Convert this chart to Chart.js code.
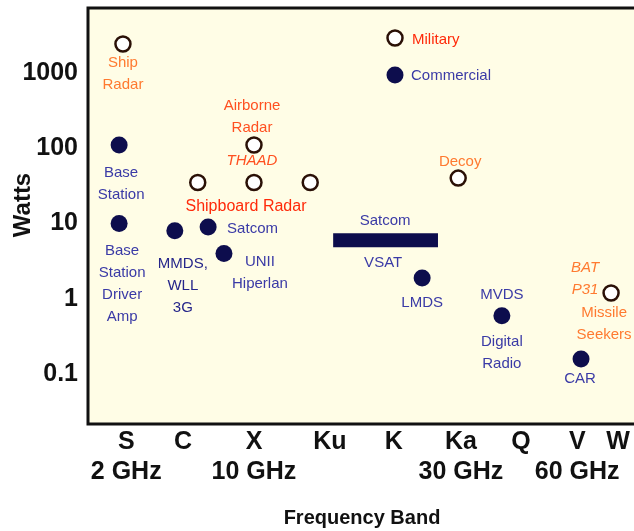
<!DOCTYPE html>
<html>
<head>
<meta charset="utf-8">
<script src="https://cdn.jsdelivr.net/npm/chart.js@4.4.1/dist/chart.umd.min.js"></script>
<style>
  html, body { margin: 0; padding: 0; background: #fff; overflow: hidden; }
  #c { display: block; }
</style>
</head>
<body>
<canvas id="c" width="634" height="531"></canvas>
<script>
// frequency bands along the bottom, and where each one sits on the band axis
const bands = ['S', 'C', 'X', 'Ku', 'K', 'Ka', 'Q', 'V', 'W'];
const bandGHz = ['2 GHz', '', '10 GHz', '', '', '30 GHz', '', '60 GHz', ''];
const bandPos = [7, 17.4, 30.4, 44.3, 56, 68.3, 79.3, 89.6, 97.1];

// power axis ticks (watts)
const wattTicks = [0.1, 1, 10, 100, 1000];

// military systems (open circles)
const milNames = ['Ship Radar', 'Airborne Radar', 'Shipboard Radar C', 'Shipboard Radar X', 'Shipboard Radar Ku', 'Decoy', 'BAT P31 Missile Seekers'];
const milBand = [6.4, 30.4, 20.1, 30.4, 40.7, 67.8, 95.8];
const milWatts = [2400, 110, 35, 35, 35, 40, 1.2];

// commercial systems (filled circles)
const comNames = ['Base Station', 'Base Station Driver Amp', 'MMDS, WLL 3G', 'Satcom', 'UNII Hiperlan', 'LMDS', 'MVDS Digital Radio', 'CAR'];
const comBand = [5.7, 5.7, 15.9, 22.0, 24.9, 61.2, 75.8, 90.3];
const comWatts = [110, 10, 8, 9, 4, 1.9, 0.6, 0.16];

// VSAT satcom spans a range of bands at one power level
const vsatBand = [44.9, 64.1];
const vsatWatts = 6;

const NAVY = '#0d0d4d';
const RING = '#2a1006';
const BLUE = '#3a3aa6';
const RED = '#ff2a0a';
const ORANGE = '#ff7a30';
const CREAM = '#fffde6';
const FONT = '"Liberation Sans", Arial, sans-serif';

// text next to the marks: which point, offset from it, lines, colour
const notes = [
  { ds: 2, i: 0, dx: 0, dy: 19, lines: ['Ship', 'Radar'], color: ORANGE },
  { ds: 2, i: 1, dx: -2, dy: -39, lines: ['Airborne', 'Radar'], color: '#ff5020' },
  { ds: 2, i: 3, dx: -2, dy: -22, lines: ['THAAD'], color: '#ff5020', italic: true },
  { ds: 2, i: 3, dx: -8, dy: 24, lines: ['Shipboard Radar'], color: RED, size: 16 },
  { ds: 2, i: 5, dx: 2, dy: -16, lines: ['Decoy'], color: ORANGE },
  { ds: 2, i: 6, dx: -26, dy: -25, lines: ['BAT', 'P31'], color: ORANGE, italic: true },
  { ds: 2, i: 6, dx: -7, dy: 20, lines: ['Missile', 'Seekers'], color: ORANGE },
  { ds: 1, i: 0, dx: 2, dy: 28, lines: ['Base', 'Station'], color: BLUE },
  { ds: 1, i: 1, dx: 3, dy: 27, lines: ['Base', 'Station', 'Driver', 'Amp'], color: BLUE },
  { ds: 1, i: 2, dx: 8, dy: 33, lines: ['MMDS,', 'WLL', '3G'], color: '#26268a' },
  { ds: 1, i: 3, dx: 19, dy: 2, lines: ['Satcom'], color: BLUE, align: 'left' },
  { ds: 1, i: 4, dx: 36, dy: 8, lines: ['UNII', 'Hiperlan'], color: BLUE },
  { ds: 1, i: 5, dx: 0, dy: 25, lines: ['LMDS'], color: BLUE },
  { ds: 1, i: 6, dx: 0, dy: -21, lines: ['MVDS'], color: BLUE },
  { ds: 1, i: 6, dx: 0, dy: 26, lines: ['Digital', 'Radio'], color: BLUE },
  { ds: 1, i: 7, dx: -1, dy: 20, lines: ['CAR'], color: BLUE },
  { ds: 0, i: 0, dx: 52, dy: -19, lines: ['Satcom'], color: BLUE },
  { ds: 0, i: 0, dx: 50, dy: 23, lines: ['VSAT'], color: BLUE }
];

const frame = {
  id: 'frame',
  beforeDraw(chart) {
    const { ctx, chartArea: a } = chart;
    ctx.save();
    ctx.fillStyle = CREAM;
    ctx.fillRect(a.left, a.top, a.right - a.left, a.bottom - a.top);
    ctx.restore();
  },
  beforeDatasetsDraw(chart) {
    const { ctx, chartArea: a } = chart;
    ctx.save();
    ctx.strokeStyle = '#111';
    ctx.lineWidth = 3;
    ctx.beginPath();
    ctx.moveTo(a.right, a.top);
    ctx.lineTo(a.left, a.top);
    ctx.lineTo(a.left, a.bottom);
    ctx.lineTo(a.right, a.bottom);
    ctx.stroke();

    // axis titles
    ctx.fillStyle = '#111';
    ctx.textAlign = 'center';
    ctx.textBaseline = 'middle';
    ctx.font = 'bold 20px ' + FONT;
    ctx.fillText('Frequency Band', 362, 518);
    ctx.translate(23, 205);
    ctx.rotate(-Math.PI / 2);
    ctx.font = 'bold 24px ' + FONT;
    ctx.fillText('Watts', 0, 0);
    ctx.restore();
  },
  afterDatasetsDraw(chart) {
    const { ctx, chartArea: a } = chart;
    ctx.save();
    ctx.textBaseline = 'middle';
    notes.forEach(n => {
      const el = chart.getDatasetMeta(n.ds).data[n.i];
      ctx.fillStyle = n.color;
      ctx.textAlign = n.align || 'center';
      ctx.font = (n.italic ? 'italic ' : '') + (n.size || 15) + 'px ' + FONT;
      n.lines.forEach((t, k) => ctx.fillText(t, el.x + n.dx, el.y + n.dy + k * 22));
    });

    // key in the upper part of the plot
    const kx = a.left + 307;
    ctx.beginPath();
    ctx.arc(kx, a.top + 30, 7.5, 0, Math.PI * 2);
    ctx.fillStyle = '#fff';
    ctx.fill();
    ctx.lineWidth = 2.5;
    ctx.strokeStyle = RING;
    ctx.stroke();
    ctx.beginPath();
    ctx.arc(kx, a.top + 67, 8.5, 0, Math.PI * 2);
    ctx.fillStyle = NAVY;
    ctx.fill();
    ctx.textAlign = 'left';
    ctx.font = '15px ' + FONT;
    ctx.fillStyle = RED;
    ctx.fillText('Military', kx + 17, a.top + 32);
    ctx.fillStyle = BLUE;
    ctx.fillText('Commercial', kx + 16, a.top + 68);
    ctx.restore();
  }
};

// fixed axis sizes, no extra room for half tick labels
function fixSize(prop, size) {
  return s => {
    s[prop] = size;
    s.paddingTop = 0;
    s.paddingBottom = 0;
    s.paddingLeft = 0;
    s.paddingRight = 0;
  };
}

const ctx = document.getElementById('c').getContext('2d');
const chart = new Chart(ctx, {
  type: 'scatter',
  data: {
    datasets: [
      {
        label: 'Satcom VSAT',
        type: 'line',
        data: vsatBand.map(b => ({ x: b, y: vsatWatts })),
        borderColor: NAVY,
        borderWidth: 14,
        borderCapStyle: 'butt',
        pointRadius: 0
      },
      {
        label: 'Commercial',
        data: comBand.map((b, i) => ({ x: b, y: comWatts[i] })),
        pointRadius: 8.5,
        backgroundColor: NAVY,
        borderColor: NAVY,
        borderWidth: 0
      },
      {
        label: 'Military',
        data: milBand.map((b, i) => ({ x: b, y: milWatts[i] })),
        pointRadius: 7.5,
        backgroundColor: '#fff',
        borderColor: RING,
        borderWidth: 2.5
      }
    ]
  },
  options: {
    responsive: false,
    animation: false,
    devicePixelRatio: 1,
    layout: { autoPadding: false, padding: { top: 8, left: 0, right: 0, bottom: 0 } },
    plugins: { legend: { display: false }, tooltip: { enabled: false } },
    scales: {
      x: {
        type: 'linear',
        min: 0,
        max: 100,
        grid: { display: false, drawTicks: false },
        border: { display: false },
        afterBuildTicks: s => { s.ticks = bandPos.map(v => ({ value: v })); },
        afterFit: fixSize('height', 107),
        ticks: {
          autoSkip: false,
          maxRotation: 0,
          padding: 3,
          color: '#111',
          font: { family: FONT, size: 25, weight: 'bold' },
          callback: v => {
            const k = bandPos.indexOf(v);
            return [bands[k], bandGHz[k]];
          }
        }
      },
      y: {
        type: 'logarithmic',
        min: 0.022,
        max: 7200,
        grid: { display: false, drawTicks: false },
        border: { display: false },
        afterBuildTicks: s => { s.ticks = wattTicks.map(v => ({ value: v })); },
        afterFit: fixSize('width', 88),
        ticks: {
          padding: 10,
          color: '#111',
          font: { family: FONT, size: 25, weight: 'bold' },
          callback: v => String(v)
        }
      }
    }
  },
  plugins: [frame]
});
</script>
</body>
</html>
